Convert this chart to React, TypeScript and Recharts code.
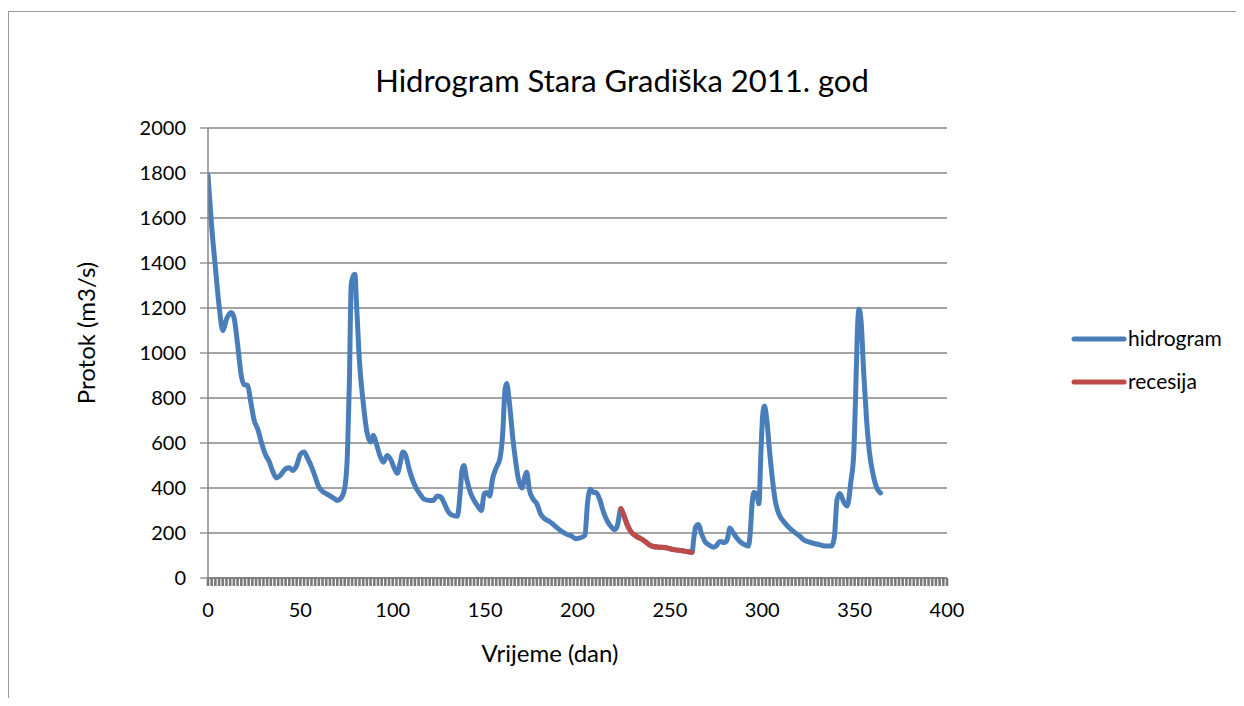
import React from 'react';
import { LineChart, Line, XAxis, YAxis, CartesianGrid, Legend } from 'recharts';

// Hidrogram (day, discharge m3/s)
const hidrogramDays = [
  0, 2, 4, 6, 8, 10, 12.5, 14, 16, 18, 19.5, 21.5, 23, 25, 27, 29, 31, 33, 35, 37, 39, 42, 44, 46, 48, 50, 52, 54, 56, 58,
  60, 62, 64, 66, 68, 70, 72, 74, 75.5, 76.5, 77.5, 78.5, 79.5, 80.5, 82, 84, 86, 88, 89.5, 91, 93, 95, 97, 99, 101, 102.5,
  104, 105.5, 107, 109, 111, 113, 115, 117, 120, 122, 124, 126, 128, 130, 132, 135, 136.5, 137.5, 138.5, 140, 142, 144,
  146, 148, 149.5, 151, 152.5, 154, 156, 158, 159.5, 160.8, 161.7, 163, 165, 166.5, 168, 170, 171.5, 172.5, 174, 176, 178,
  180, 182, 185, 188, 191, 194, 197, 199, 202, 204, 205.5, 207, 208.5, 210, 212, 214, 216, 218, 220, 221.5, 223.5, 225,
  227, 229, 231, 233, 235, 237, 239, 241, 244, 247, 250, 253, 256, 259, 262, 263, 264, 265.5, 267, 269, 271, 273.5, 275,
  277, 279.5, 281, 282.5, 284, 286, 288.5, 290.5, 292.5, 293.5, 294.5, 295.5, 297, 298.2, 299.3, 300.3, 301.2, 302.5, 304,
  305.5, 307, 309, 311.5, 314, 317, 320, 322, 326, 330, 334, 337.5, 339, 340.5, 342, 344, 346, 348, 349.5, 350.5, 351.5,
  352.4, 353.5, 355, 356.5, 358, 360, 362, 364,
];
const hidrogramQ = [
  1790, 1560, 1380, 1210, 1100, 1150, 1180, 1160, 1040, 900, 860, 855, 790, 700, 660, 600, 550, 520, 475, 445, 455, 485,
  490, 478, 500, 550, 560, 530, 495, 450, 405, 385, 375, 365, 355, 345, 355, 400, 560, 860, 1300, 1340, 1350, 1200, 960,
  780, 650, 605, 635, 600, 545, 515, 545, 525, 485, 465, 510, 560, 545, 480, 430, 395, 370, 350, 345, 345, 365, 360, 330,
  295, 280, 275, 380, 480, 500, 440, 380, 345, 320, 300, 375, 380, 365, 440, 490, 530, 640, 840, 865, 790, 620, 520, 440,
  400, 450, 470, 390, 350, 330, 285, 265, 250, 230, 210, 195, 185, 175, 180, 190, 340, 395, 380, 380, 350, 295, 255, 230,
  215, 230, 308, 280, 235, 205, 190, 180, 172, 160, 147, 140, 137, 136, 130, 125, 122, 118, 114, 180, 228, 238, 200, 162,
  148, 137, 142, 162, 158, 170, 222, 205, 180, 158, 148, 142, 200, 330, 380, 370, 330, 560, 730, 764, 700, 560, 440, 345,
  285, 252, 228, 206, 188, 172, 158, 150, 142, 142, 180, 350, 376, 340, 320, 430, 550, 800, 1100, 1195, 1140, 900, 700,
  560, 460, 400, 378,
];

// Recesija (day, discharge m3/s)
const recesijaDays = [223.5, 225, 227, 229, 231, 233, 235, 237, 239, 241, 244, 247, 250, 253, 256, 259, 262];
const recesijaQ = [308, 280, 235, 205, 190, 180, 172, 160, 147, 140, 137, 136, 130, 125, 122, 118, 114];

// Axis ticks
const yTicks = [0, 200, 400, 600, 800, 1000, 1200, 1400, 1600, 1800, 2000];
const xLabelTicks = [0, 50, 100, 150, 200, 250, 300, 350, 400];
const xMinorTicks = Array.from({ length: 201 }, (_, i) => i * 2);

const hidrogramData = hidrogramDays.map((d, i) => ({ day: d, q: hidrogramQ[i] }));
const recesijaData = recesijaDays.map((d, i) => ({ day: d, q: recesijaQ[i] }));

const FONT = 'Lato, "Open Sans", sans-serif';
const BLUE = '#4a7ebb';
const RED = '#be4b48';
const GRID = '#868686';

const XTick = (props: any) => {
  const { x, y, payload } = props;
  if (!xLabelTicks.includes(payload.value)) return <g />;
  return (
    <text x={x} y={y + 31} textAnchor="middle" fontFamily={FONT} fontSize={20} fill="#000">
      {payload.value}
    </text>
  );
};

const LegendContent = () => (
  <svg width={178} height={80} style={{ display: 'block', overflow: 'visible' }}>
    <line x1={8} y1={10} x2={58} y2={10} stroke={BLUE} strokeWidth={5} strokeLinecap="round" />
    <text x={62} y={17} fontFamily={FONT} fontSize={21} fill="#000">hidrogram</text>
    <line x1={8} y1={53} x2={58} y2={53} stroke={RED} strokeWidth={5} strokeLinecap="round" />
    <text x={62} y={60} fontFamily={FONT} fontSize={21} fill="#000">recesija</text>
  </svg>
);

export default function App() {
  return (
    <div style={{ position: 'relative', width: 1236, height: 690, fontFamily: FONT }}>
      <div
        style={{
          position: 'absolute',
          left: 0,
          top: 3,
          width: 1236,
          height: 687,
          borderLeft: '1.5px solid #9a9a9a',
          borderTop: '1.5px solid #9a9a9a',
          boxSizing: 'border-box',
        }}
      />
      <div style={{ position: 'absolute', left: 0, top: 0 }}>
        <LineChart width={1236} height={690} margin={{ top: 120, right: 297, bottom: 90, left: 140 }}>
          <CartesianGrid horizontal vertical={false} stroke={GRID} strokeWidth={1.3} />
          <XAxis
            dataKey="day"
            type="number"
            domain={[0, 400]}
            ticks={xMinorTicks}
            interval={0}
            height={30}
            tickSize={8}
            tickMargin={0}
            tick={<XTick />}
            tickLine={{ stroke: '#7a7a7a', strokeWidth: 2.6 }}
            axisLine={{ stroke: GRID, strokeWidth: 2 }}
            allowDataOverflow
          />
          <YAxis
            type="number"
            domain={[0, 2000]}
            ticks={yTicks}
            interval={0}
            width={60}
            tickSize={8}
            tickMargin={14}
            tickLine={{ stroke: GRID, strokeWidth: 1.3 }}
            axisLine={{ stroke: GRID, strokeWidth: 1.5 }}
            tick={{ fontFamily: FONT, fontSize: 20, fill: '#000' }}
          />
          <Legend
            layout="vertical"
            align="center"
            verticalAlign="middle"
            content={<LegendContent />}
            wrapperStyle={{ left: 1058, top: 321, width: 178, height: 80 }}
          />
          <Line
            data={hidrogramData}
            dataKey="q"
            name="hidrogram"
            type="monotone"
            stroke={BLUE}
            strokeWidth={5}
            dot={false}
            activeDot={false}
            isAnimationActive={false}
            strokeLinejoin="round"
            strokeLinecap="round"
          />
          <Line
            data={recesijaData}
            dataKey="q"
            name="recesija"
            type="monotone"
            stroke={RED}
            strokeWidth={5}
            dot={false}
            activeDot={false}
            isAnimationActive={false}
            strokeLinejoin="round"
            strokeLinecap="round"
          />
        </LineChart>
      </div>
      <svg
        width={1236}
        height={690}
        style={{ position: 'absolute', left: 0, top: 0, pointerEvents: 'none' }}
      >
        <text x={614} y={84} textAnchor="middle" fontFamily={FONT} fontSize={31} fill="#000">
          Hidrogram Stara Gradiška 2011. god
        </text>
        <text
          x={0}
          y={0}
          transform="translate(87,325) rotate(-90)"
          textAnchor="middle"
          fontFamily={FONT}
          fontSize={24}
          fill="#000"
        >
          Protok (m3/s)
        </text>
        <text x={542} y={654} textAnchor="middle" fontFamily={FONT} fontSize={24} fill="#000">
          Vrijeme (dan)
        </text>
      </svg>
    </div>
  );
}
